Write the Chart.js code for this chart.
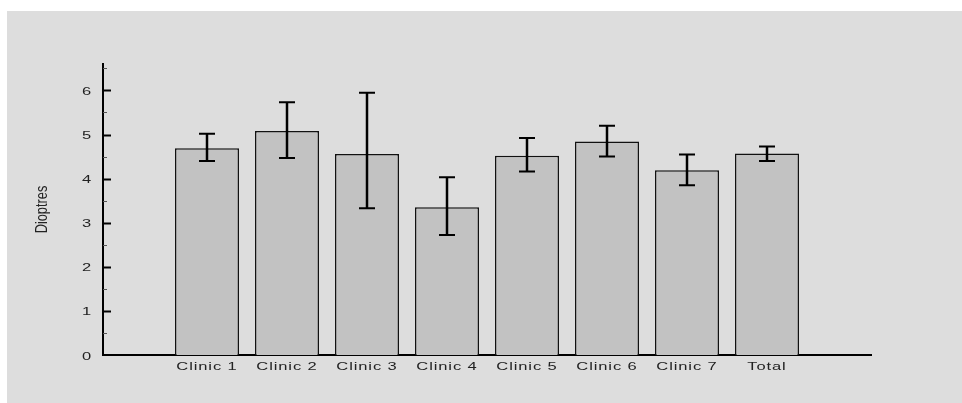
<!DOCTYPE html>
<html>
<head>
<meta charset="utf-8">
<script src="https://cdn.jsdelivr.net/npm/chart.js@4/dist/chart.umd.min.js"></script>
<style>
  html, body { margin: 0; padding: 0; background: #ffffff; }
  #wrap { position: absolute; left: 7px; top: 11px; width: 955px; height: 392px; background: #dddddd; }
  canvas { display: block; }
</style>
</head>
<body>
<div id="wrap"><canvas id="dioptresChart" width="955" height="392"></canvas></div>
<script>
// data
var categories = ['Clinic 1', 'Clinic 2', 'Clinic 3', 'Clinic 4', 'Clinic 5', 'Clinic 6', 'Clinic 7', 'Total'];
var means = [4.69, 5.08, 4.56, 3.35, 4.52, 4.84, 4.19, 4.57];
var upper = [5.02, 5.73, 5.95, 4.03, 4.92, 5.20, 4.55, 4.73];
var lower = [4.40, 4.47, 3.33, 2.72, 4.16, 4.50, 3.85, 4.40];
var yTicks = [0, 1, 2, 3, 4, 5, 6];
var yTitle = 'Dioptres';

var labelFont = '11px "Liberation Sans", Arial, sans-serif';

// draws a horizontally stretched string (the original output uses a wide face)
function stretchedText(ctx, text, x, y, sx, align) {
    ctx.save();
    ctx.translate(x, y);
    ctx.scale(sx, 1);
    ctx.textAlign = align;
    ctx.fillText(text, 0, 0);
    ctx.restore();
}

const errorBars = {
    id: 'errorBars',
    afterDatasetsDraw(chart) {
        const ctx = chart.ctx;
        const y = chart.scales.y;
        const meta = chart.getDatasetMeta(0);
        ctx.save();
        ctx.strokeStyle = '#000';
        meta.data.forEach(function (bar, i) {
            const top = y.getPixelForValue(upper[i]);
            const bot = y.getPixelForValue(lower[i]);
            ctx.lineWidth = 2.5;
            ctx.beginPath();
            ctx.moveTo(bar.x, top);
            ctx.lineTo(bar.x, bot);
            ctx.stroke();
            ctx.lineWidth = 2;
            ctx.beginPath();
            ctx.moveTo(bar.x - 8, top);
            ctx.lineTo(bar.x + 8, top);
            ctx.moveTo(bar.x - 8, bot);
            ctx.lineTo(bar.x + 8, bot);
            ctx.stroke();
        });
        ctx.restore();
    },
};

const axisText = {
    id: 'axisText',
    afterDraw(chart) {
        const ctx = chart.ctx;
        const x = chart.scales.x;
        const y = chart.scales.y;
        const left = chart.chartArea.left;
        ctx.save();
        // inside ticks on the y axis, minor ones at the halves
        yTicks.forEach(function (t) {
            const py = Math.round(y.getPixelForValue(t)) + 0.5;
            if (t > 0) {
                ctx.strokeStyle = '#000';
                ctx.lineWidth = 2;
                ctx.beginPath();
                ctx.moveTo(left, py);
                ctx.lineTo(left + 8, py);
                ctx.stroke();
            }
            const ph = Math.round(y.getPixelForValue(t + 0.5)) + 0.5;
            ctx.strokeStyle = '#555';
            ctx.lineWidth = 1;
            ctx.beginPath();
            ctx.moveTo(left, ph);
            ctx.lineTo(left + 4, ph);
            ctx.stroke();
        });

        ctx.fillStyle = '#222';
        ctx.letterSpacing = '0.6px';
        ctx.textBaseline = 'middle';
        ctx.font = '11px "Liberation Sans", Arial, sans-serif';
        yTicks.forEach(function (t) {
            stretchedText(ctx, String(t), left - 11, y.getPixelForValue(t) + 1.5, 1.5, 'right');
        });

        ctx.font = labelFont;
        categories.forEach(function (c, i) {
            stretchedText(ctx, c, x.getPixelForValue(i + 1), chart.chartArea.bottom + 11.5, 1.5, 'center');
        });

        // y axis title, tall and narrow
        ctx.letterSpacing = '0px';
        ctx.font = '16px "Liberation Sans", Arial, sans-serif';
        ctx.translate(35.5, (chart.chartArea.top + chart.chartArea.bottom) / 2);
        ctx.rotate(-Math.PI / 2);
        ctx.scale(0.8, 1);
        ctx.textAlign = 'center';
        ctx.fillText(yTitle, 0, 0);
        ctx.restore();
    },
};

var dioptresChart = new Chart(document.getElementById('dioptresChart'), {
    type: 'bar',
    data: {
        datasets: [
            {
                data: categories.map(function (c, i) {
                    return { x: i + 1, y: means[i] };
                }),
                backgroundColor: '#c2c2c2',
                borderColor: '#111',
                borderWidth: 1.5,
                barPercentage: 0.8,
                categoryPercentage: 1,
            },
        ],
    },
    options: {
        responsive: false,
        animation: false,
        devicePixelRatio: 1,
        layout: {
            padding: { left: 96, right: 91, top: 53, bottom: 48 },
        },
        scales: {
            x: {
                type: 'linear',
                offset: false,
                min: -0.3,
                max: 9.3,
                afterBuildTicks: function (scale) {
                    scale.ticks = categories.map(function (c, i) {
                        return { value: i + 1 };
                    });
                },
                ticks: { display: false },
                grid: { display: false, drawTicks: false, offset: false },
                border: { display: true, color: '#000', width: 2 },
            },
            y: {
                min: 0,
                max: 6.6,
                ticks: { display: false },
                grid: { display: false, drawTicks: false },
                border: { display: true, color: '#000', width: 2 },
            },
        },
        plugins: {
            legend: { display: false },
            tooltip: { enabled: false },
        },
    },
    plugins: [errorBars, axisText],
});
</script>
</body>
</html>
